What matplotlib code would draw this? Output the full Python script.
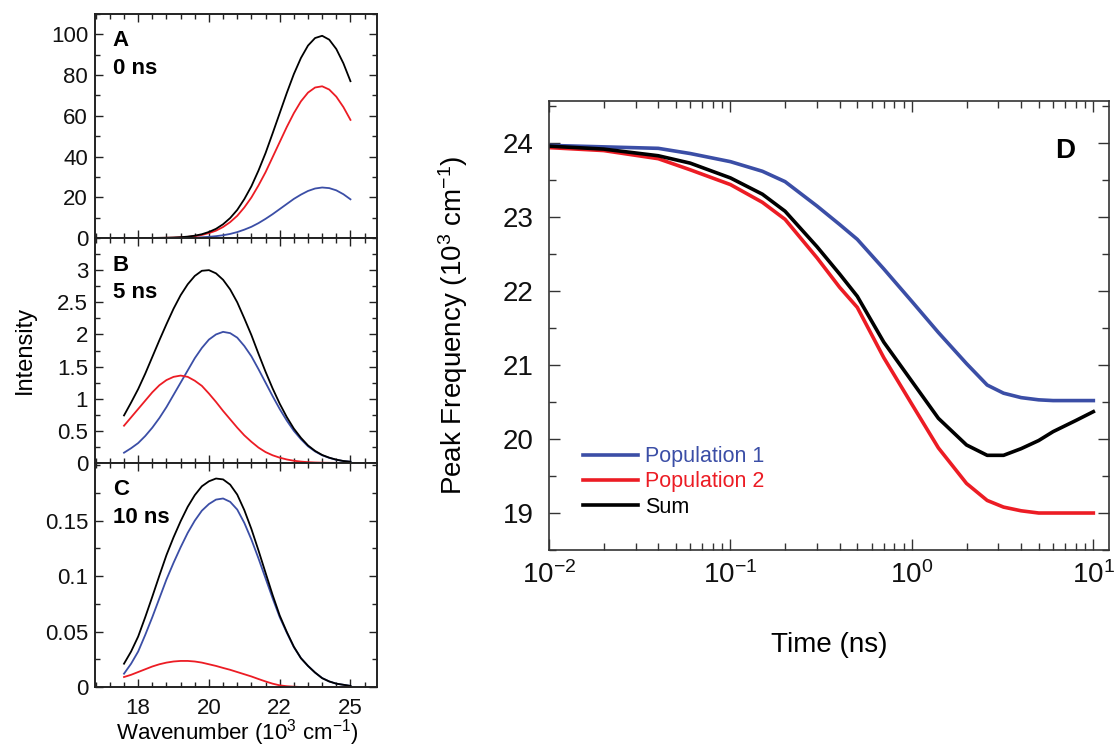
import numpy as np
import matplotlib
matplotlib.use("Agg")
import matplotlib.pyplot as plt
from matplotlib.ticker import MultipleLocator, FixedLocator

plt.rcParams['font.family'] = ['Liberation Sans', 'DejaVu Sans']
plt.rcParams['mathtext.fontset'] = 'custom'
plt.rcParams['mathtext.rm'] = 'Liberation Sans'
plt.rcParams['mathtext.it'] = 'Liberation Sans:italic'
plt.rcParams['mathtext.bf'] = 'Liberation Sans:bold'

BLUE = '#3b4ea6'
RED = '#ec1c24'

# spectra (A: 0 ns, B: 5 ns, C: 10 ns), wavenumber in 10^3 cm^-1
wavenumber = [17.6, 17.8, 18.0, 18.2, 18.4, 18.6, 18.8, 19.0, 19.2, 19.4, 19.6,
              19.8, 20.0, 20.2, 20.4, 20.6, 20.8, 21.0, 21.2, 21.4, 21.6, 21.8,
              22.0, 22.2, 22.4, 22.6, 22.8, 23.0, 23.2, 23.4, 23.6, 23.8, 24.0]

a_pop1 = [0.0, 0.0, 0.0, 0.0, 0.01, 0.02, 0.03, 0.04, 0.07, 0.12, 0.21,
          0.35, 0.57, 0.9, 1.36, 2.0, 2.9, 4.1, 5.5, 7.3, 9.4, 11.7,
          14.2, 16.7, 19.2, 21.3, 23.1, 24.3, 24.8, 24.5, 23.4, 21.5, 19.0]
a_pop2 = [0.0, 0.0, 0.0, 0.0, 0.03, 0.06, 0.1, 0.19, 0.33, 0.56, 0.93,
          1.5, 2.4, 3.6, 5.4, 7.8, 10.9, 15.0, 19.9, 25.8, 32.3, 39.7,
          47.1, 54.5, 61.3, 67.1, 71.4, 73.9, 74.5, 72.9, 69.4, 64.3, 58.0]

b_pop1 = [0.16, 0.23, 0.31, 0.42, 0.55, 0.70, 0.87, 1.06, 1.25, 1.44, 1.63,
          1.79, 1.92, 2.00, 2.04, 2.02, 1.95, 1.82, 1.66, 1.46, 1.25, 1.04,
          0.84, 0.66, 0.50, 0.37, 0.26, 0.18, 0.12, 0.08, 0.05, 0.03, 0.02]
b_pop2 = [0.58, 0.71, 0.84, 0.97, 1.10, 1.21, 1.29, 1.34, 1.36, 1.34, 1.28,
          1.20, 1.08, 0.95, 0.81, 0.68, 0.55, 0.43, 0.33, 0.24, 0.17, 0.12,
          0.083, 0.055, 0.035, 0.022, 0.013, 0.008, 0.005, 0.003, 0.002, 0.001, 0.0]

c_pop1 = [0.012, 0.021, 0.032, 0.047, 0.063, 0.080, 0.097, 0.112, 0.126, 0.139, 0.150,
          0.159, 0.165, 0.169, 0.170, 0.167, 0.160, 0.148, 0.133, 0.116, 0.098, 0.080,
          0.063, 0.049, 0.036, 0.026, 0.019, 0.013, 0.008, 0.005, 0.003, 0.002, 0.001]
c_pop2 = [0.009, 0.011, 0.0135, 0.016, 0.0185, 0.0205, 0.022, 0.023, 0.0235, 0.0235, 0.023,
          0.022, 0.0205, 0.019, 0.0172, 0.0155, 0.0135, 0.0115, 0.0095, 0.0072, 0.005, 0.003,
          0.0015, 0.0007, 0.0003, 0.0, 0.0, 0.0, 0.0, 0.0, 0.0, 0.0, 0.0]

# peak frequency vs time (D)
time_ns = [0.01, 0.02, 0.04, 0.06, 0.1, 0.15, 0.2, 0.3, 0.4, 0.5, 0.7,
           1.0, 1.4, 2.0, 2.6, 3.2, 4.0, 5.0, 6.0, 8.0, 10.0]
peak_pop1 = [23.97, 23.95, 23.93, 23.86, 23.75, 23.62, 23.48, 23.15, 22.90, 22.70, 22.30,
             21.86, 21.44, 21.02, 20.73, 20.62, 20.56, 20.53, 20.52, 20.52, 20.52]
peak_pop2 = [23.94, 23.90, 23.79, 23.64, 23.44, 23.20, 22.97, 22.45, 22.05, 21.78, 21.10,
             20.47, 19.88, 19.40, 19.17, 19.08, 19.03, 19.00, 19.00, 19.00, 19.00]
peak_sum = [23.96, 23.92, 23.83, 23.73, 23.53, 23.31, 23.08, 22.60, 22.23, 21.93, 21.31,
            20.78, 20.28, 19.92, 19.78, 19.78, 19.87, 19.98, 20.10, 20.25, 20.37]

W, H = 1115, 751
fig = plt.figure(figsize=(W / 100, H / 100), dpi=100)

axA = fig.add_axes([95 / W, 1 - 238 / H, 282 / W, 224 / H])
axB = fig.add_axes([95 / W, 1 - 463 / H, 282 / W, 225 / H])
axC = fig.add_axes([95 / W, 1 - 687 / H, 282 / W, 224 / H])
axD = fig.add_axes([549 / W, 1 - 550 / H, 560 / W, 449 / H])

panels = [
    (axA, a_pop1, a_pop2, 'A', '0 ns'),
    (axB, b_pop1, b_pop2, 'B', '5 ns'),
    (axC, c_pop1, c_pop2, 'C', '10 ns'),
]
for ax, p1, p2, letter, tlabel in panels:
    p1 = np.array(p1)
    p2 = np.array(p2)
    ax.plot(wavenumber, p1, color=BLUE, lw=1.3)
    ax.plot(wavenumber, p2, color=RED, lw=1.3)
    ax.plot(wavenumber, p1 + p2, color='black', lw=1.3)
    ax.set_xlim(16.78, 24.75)
    ax.set_xticks([18, 20, 22, 24])
    ax.xaxis.set_minor_locator(MultipleLocator(0.4))
    ax.tick_params(which='both', direction='in', top=True, right=True,
                   labelsize=16, pad=5, width=1.0, colors='#222222', labelcolor='#111111')
    ax.tick_params(which='major', length=6)
    ax.tick_params(which='minor', length=3.5)
    ax.tick_params(axis='x', labelbottom=False)
    for s in ax.spines.values():
        s.set_linewidth(1.4)
        s.set_color('#222222')
    ax.text(0.063, 0.855, letter, transform=ax.transAxes, fontsize=16,
            fontweight='bold', va='baseline', ha='left')
    ax.text(0.063, 0.733, tlabel, transform=ax.transAxes, fontsize=16,
            fontweight='bold', va='baseline', ha='left')

axA.set_ylim(0, 110)
axA.set_yticks([0, 20, 40, 60, 80, 100])
axA.yaxis.set_minor_locator(MultipleLocator(10))

axB.set_ylim(0, 3.5)
axB.yaxis.set_major_locator(FixedLocator([0, 0.5, 1, 1.5, 2, 2.5, 3]))
axB.set_yticklabels(['0', '0.5', '1', '1.5', '2', '2.5', '3'])
axB.yaxis.set_minor_locator(MultipleLocator(0.25))

axC.set_ylim(0, 0.202)
axC.yaxis.set_major_locator(FixedLocator([0, 0.05, 0.1, 0.15]))
axC.set_yticklabels(['0', '0.05', '0.1', '0.15'])
axC.yaxis.set_minor_locator(MultipleLocator(0.025))
axC.tick_params(axis='x', labelbottom=True, pad=8)
axC.set_xticklabels(['18', '20', '22', '25'])

fig.text(25 / W, 1 - 350 / H, 'Intensity', rotation=90, ha='center', va='center', fontsize=17)
fig.text(237 / W, 1 - 733 / H, 'Wavenumber (10$^3$ cm$^{-1}$)', ha='center', va='center', fontsize=16)

# panel D
axD.plot(time_ns, peak_pop1, color=BLUE, lw=2.6, label='Population 1')
axD.plot(time_ns, peak_pop2, color=RED, lw=2.6, label='Population 2')
axD.plot(time_ns, peak_sum, color='black', lw=2.6, label='Sum')
axD.set_xscale('log')
axD.set_xlim(0.01, 12.2)
axD.set_ylim(18.5, 24.57)
axD.set_yticks([19, 20, 21, 22, 23, 24])
axD.yaxis.set_minor_locator(MultipleLocator(0.5))
axD.tick_params(which='both', direction='in', top=True, right=True,
                labelsize=20, width=1.0, colors='#333333', labelcolor='#111111')
axD.tick_params(which='major', length=8)
axD.tick_params(which='minor', length=5)
axD.tick_params(axis='y', pad=11)
axD.tick_params(axis='x', pad=8)
for s in axD.spines.values():
    s.set_linewidth(1.2)
    s.set_color('#333333')

leg = axD.legend(loc='upper left', bbox_to_anchor=(0.0607, 0.2315), frameon=False,
                 fontsize=15.5, borderpad=0, borderaxespad=0, labelspacing=0.2,
                 handlelength=2.55, handletextpad=0.33)
for txt, c in zip(leg.get_texts(), [BLUE, RED, 'black']):
    txt.set_color(c)

axD.text(0.94, 0.873, 'D', transform=axD.transAxes, fontsize=20, fontweight='bold',
         ha='right', va='baseline')

fig.text(453 / W, 1 - 325 / H, 'Peak Frequency (10$^3$ cm$^{-1}$)', rotation=90,
         ha='center', va='center', fontsize=20)
fig.text(829 / W, 1 - 645 / H, 'Time (ns)', ha='center', va='center', fontsize=20)

fig.savefig('out.png', dpi=100)
